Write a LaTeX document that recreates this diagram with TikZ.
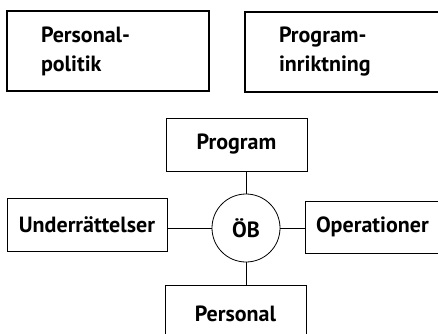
\documentclass[tikz,border=0pt]{standalone}
\usepackage{fontspec}
\setmainfont{PT Sans}

\begin{document}
\begin{tikzpicture}[x=1pt,y=-1pt,
		font=\fontsize{22}{29}\selectfont\bfseries,
		topbox/.style={draw, line width=2pt, anchor=north west, align=left, text width=#1, inner xsep=34pt, minimum height=80pt},
		unitbox/.style={draw, line width=0.8pt, minimum width=#1},
		hub/.style={draw, circle, line width=0.8pt, minimum size=68pt, inner sep=0pt},
		link/.style={line width=0.8pt}]
			\useasboundingbox (0,0) rectangle (438,333);
			\def \midy{ 228 };
			\node[topbox=134pt] (polit) at (6,10) {Personal-\\politik};
			\node[topbox=150pt] (inrikt) at (244,11) {Program-\\inriktning};
			\node[hub] (ob) at (246,\midy) {ÖB};
			\node[unitbox=141pt, minimum height=53pt] (prog) at (236.5,144.5) {Program};
			\node[unitbox=160pt, minimum height=53pt] (under) at (87,225) {Underrättelser};
			\node[unitbox=150pt, minimum height=52pt, align=left, text width=128pt, inner xsep=11pt] (oper) at (380,227) {Operationer};
			\node[unitbox=141pt, minimum height=56pt, anchor=north] (pers) at (235.5,285) {Personal};
			\draw[link] (ob |- prog.south) -- (ob);
			\draw[link] (under.east |- ob) -- (ob);
			\draw[link] (ob) -- (oper.west |- ob);
			\draw[link] (ob) -- (ob |- pers.north);
		\end{tikzpicture}
\end{document}
